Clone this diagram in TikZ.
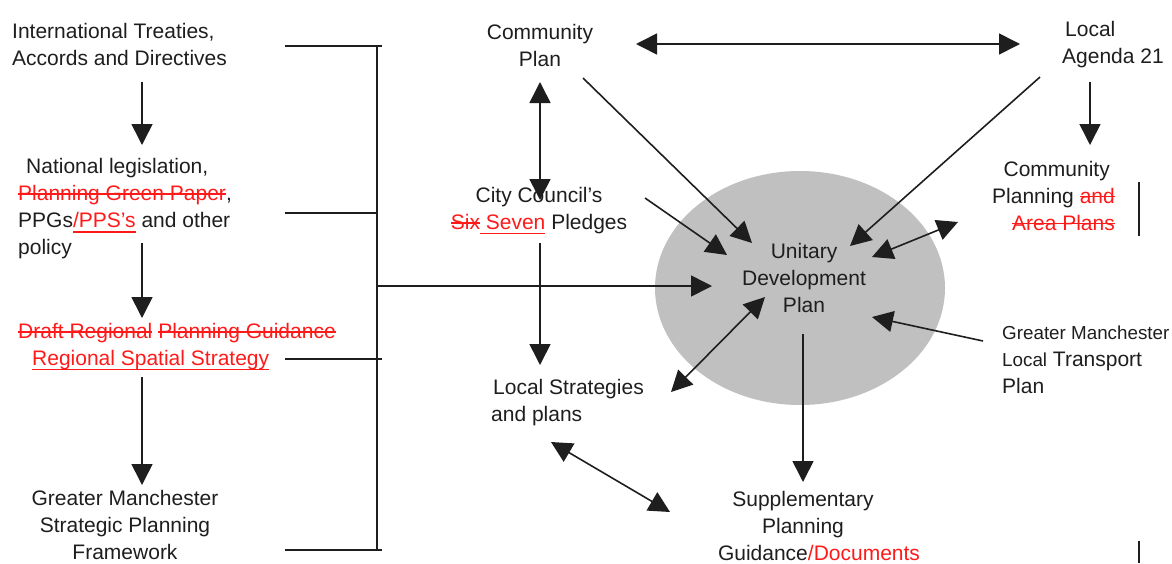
\documentclass[tikz,border=0pt]{standalone}
\usepackage{fontspec}
\setmainfont{Liberation Sans}
\usepackage{tikz}
\usetikzlibrary{calc,arrows.meta}
\definecolor{ink}{HTML}{1E1E1E}
\definecolor{edit}{HTML}{FF1A1A}
\definecolor{udpgrey}{HTML}{C0C0C0}
\newsavebox{\markbox}
\newcommand{\struck}[1]{{\color{edit}\sbox{\markbox}{#1}\rlap{\rule[0.3em]{\wd\markbox}{1.4pt}}\usebox{\markbox}}}
\newcommand{\addtext}[1]{{\color{edit}\sbox{\markbox}{#1}\rlap{\rule[-0.22em]{\wd\markbox}{1.4pt}}\usebox{\markbox}}}
\newcommand{\fsmain}{\fontsize{21}{27}\selectfont}
\newcommand{\fssmall}{\fontsize{18.8}{27}\selectfont}
\tikzset{
  txt/.style={font=\fsmain, text=ink, inner sep=0pt, align=center},
  txtl/.style={txt, align=left},
  txtr/.style={txt, align=right},
  link/.style={draw=ink, line width=1.6pt, -{Triangle[length=21pt,width=21pt]}},
  link2/.style={link, {Triangle[length=21pt,width=21pt]}-{Triangle[length=21pt,width=21pt]}},
  brk/.style={draw=ink, line width=1.7pt},
  udpbg/.style={fill=udpgrey}
}
\begin{document}
\begin{tikzpicture}[x=1pt,y=-1pt]
  \useasboundingbox (0,0) rectangle (1172,563);

  % policy chain on the left
  \node[txtl,anchor=west] (intl) at (12,44) {International Treaties,\\Accords and Directives};
  \node[txtl,anchor=west] (natl) at (18,209) {\hspace*{8pt}National legislation,\\\struck{Planning Green Paper},\\PPGs\addtext{/PPS's} and other\\policy};
  \node[txtl,anchor=west] (rss) at (18,347) {\struck{Draft Regional} \struck{Planning Guidance}\\\hspace*{14pt}\addtext{Regional Spatial Strategy}};
  \node[txt] (gmspf) at (125,525) {Greater Manchester\\Strategic Planning\\Framework};

  \draw[link] ($(intl.west)+(130,38)$) -- ($(natl.west)+(124,-64)$);
  \draw[link] ($(natl.west)+(124,34)$) -- ($(rss.west)+(124,-29)$);
  \draw[link] ($(rss.west)+(124,30)$) -- ($(gmspf)+(17,-40)$);

  % bracket
  \coordinate (brkmid) at (377,286);
  \draw[brk] (285,46) -- (382,46);
  \draw[brk] (285,213) -- (377,213);
  \draw[brk] (285,359) -- (382,359);
  \draw[brk] (285,550) -- (382,550);
  \draw[brk] (377,46) -- (377,550);

  % UDP
  \fill[udpbg] (800,288) ellipse (145 and 117);
  \node[txt] (udp) at (804,278) {Unitary\\Development\\Plan};

  % the other plans
  \node[txt] (cplan) at (540,45) {Community\\Plan};
  \node[txtl,anchor=west] (agenda) at (1062,45) {\hspace*{3pt}Local\\Agenda 21};
  \node[txtr,anchor=east] (cpa) at (1115,196) {Community\hspace*{5pt}\\Planning \struck{and}\\\struck{Area Plans}};
  \node[txt] (pledge) at (539,211) {City Council's\\\struck{Six}\addtext{~Seven} Pledges};
  \node[txtl,anchor=west] (lstrat) at (491,403) {\hspace*{2pt}Local Strategies\\and plans};
  \node[txt] (spg) at (803,526) {Supplementary\\Planning\\\hspace*{32pt}Guidance{\color{edit}/Documents}};
  \node[txtl,anchor=west] (gmltp) at (1002,360) {{\fssmall Greater Manchester}\\{\fssmall Local} Transport\\Plan};

  \draw[brk] (1139,182) -- (1139,236);
  \draw[brk] (1139,541) -- (1139,563);

  % connectors
  \draw[link2] ($(cplan)+(96,-1)$) -- ($(agenda.west)+(-42,-1)$);
  \draw[link2] ($(cplan)+(0,37)$) -- ($(pledge)+(1,-11)$);
  \draw[link] ($(pledge)+(1,32)$) -- ($(lstrat.west)+(49,-38)$);
  \draw[link] ($(agenda.west)+(28,37)$) -- ($(cpa.east)+(-25,-51)$);
  \draw[link] ($(cplan)+(43,33)$) -- ($(udp)+(-52,-35)$);
  \draw[link] ($(pledge)+(106,-13)$) -- ($(udp)+(-77,-23)$);
  \draw[link] ($(agenda.west)+(-22,32)$) -- ($(udp)+(46,-32)$);
  \draw[link2] ($(udp)+(68,-21)$) -- ($(cpa.east)+(-157,26)$);
  \draw[link] ($(gmltp.west)+(-19,-19)$) -- ($(udp)+(68,39)$);
  \draw[link2] ($(udp)+(-39,19)$) -- ($(lstrat.west)+(180,-11)$);
  \draw[link2] ($(lstrat.west)+(60,39)$) -- ($(spg)+(-133,-14)$);
  \draw[link] ($(udp)+(-1,56)$) -- ($(spg)+(0,-44)$);
  \draw[link] (brkmid) -- ($(udp)+(-92,8)$);
\end{tikzpicture}
\end{document}
